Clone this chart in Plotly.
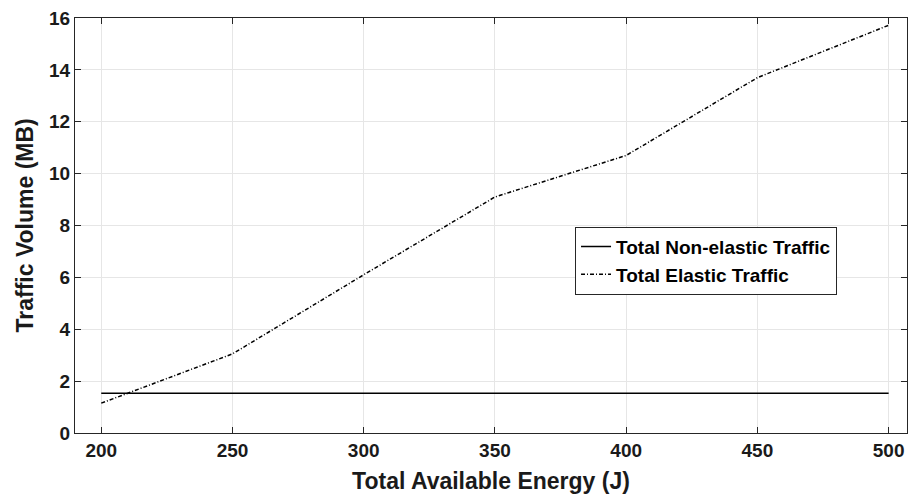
import plotly.graph_objects as go

energy = [200, 250, 300, 350, 400, 450, 500]
non_elastic = [1.53, 1.53, 1.53, 1.53, 1.53, 1.53, 1.53]
elastic = [1.15, 3.05, 6.1, 9.1, 10.7, 13.7, 15.72]

x_ticks = [200, 250, 300, 350, 400, 450, 500]
y_ticks = [0, 2, 4, 6, 8, 10, 12, 14, 16]

FONT = "Liberation Sans, Arial, sans-serif"

fig = go.Figure()
fig.add_trace(go.Scatter(x=energy, y=non_elastic, mode="lines",
                         name="Total Non-elastic Traffic",
                         line=dict(color="black", width=1.5, dash="solid")))
fig.add_trace(go.Scatter(x=energy, y=elastic, mode="lines",
                         name="Total Elastic Traffic",
                         line=dict(color="black", width=1.5, dash="4px,2px,1px,2px")))

axis_common = dict(showline=True, linecolor="#262626", linewidth=1.2, mirror="ticks",
                   ticks="inside", ticklen=6, tickcolor="#262626",
                   showgrid=True, gridcolor="#e6e6e6", gridwidth=1, zeroline=False,
                   tickfont=dict(family=FONT, size=19, color="#1a1a1a", weight="bold"))

fig.update_xaxes(range=[190, 507], tickvals=x_ticks,
                 title=dict(text="Total Available Energy (J)",
                            font=dict(family=FONT, size=23, color="#1a1a1a", weight="bold"),
                            standoff=13),
                 **axis_common)
fig.update_yaxes(range=[0, 16], tickvals=y_ticks, **axis_common)

fig.add_annotation(text="Traffic Volume (MB)", xref="paper", yref="paper",
                   x=0, y=0.5, xshift=-51, textangle=-90, showarrow=False,
                   xanchor="center", yanchor="middle",
                   font=dict(family=FONT, size=23, color="#1a1a1a", weight="bold"))

fig.update_layout(
    width=909, height=494,
    margin=dict(l=75, r=2, t=18, b=61),
    plot_bgcolor="white", paper_bgcolor="white",
    showlegend=True,
    legend=dict(x=0.601, y=0.497, xanchor="left", yanchor="top",
                bgcolor="white", bordercolor="#262626", borderwidth=1,
                font=dict(family=FONT, size=19, color="black", weight="bold"),
                tracegroupgap=0, itemwidth=30),
)

fig.write_html("out.html")
